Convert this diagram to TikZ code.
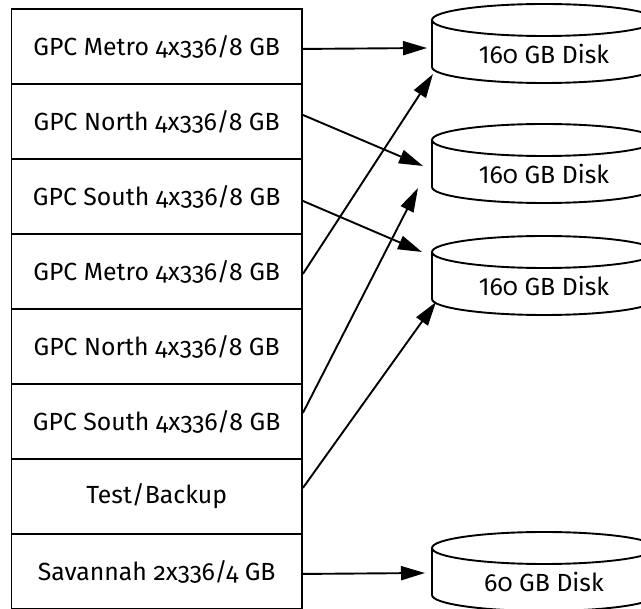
\documentclass[tikz,border=0pt]{standalone}
\usepackage{fontspec}
\setmainfont{Fira Sans}[Numbers=OldStyle]
\usetikzlibrary{arrows.meta,calc}
\newcommand\lnum[1]{{\addfontfeature{Numbers=Lining}#1}}
\newcommand\drawdisk[4]{%
  \coordinate (#1) at (#2,#3);
  \draw (#1) ellipse [x radius=112pt, y radius=16pt];
  \draw ($(#1)+(-112,0)$) -- ++(0,47)
        arc[start angle=180, end angle=360, x radius=112pt, y radius=16pt] -- ++(0,-47);
  \node[disklabel] (#1t) at ($(#1)+(0,44)$) {#4};
}
\begin{document}
\begin{tikzpicture}[x=1pt, y=-1pt, line width=1.9pt,
  rowbox/.style={draw, minimum width=290.5pt, minimum height=75pt, inner sep=0pt,
    font=\fontsize{24.8}{28}\selectfont, anchor=north west},
  disklabel/.style={font=\fontsize{24.8}{28}\selectfont, anchor=base, inner sep=0pt},
  conn/.style={-{Triangle[length=24pt, width=14pt]}}]
\useasboundingbox (0,0) rectangle (641,609);
\fill[white] (0,0) rectangle (641,609);
\clip (0,0) rectangle (641,609);
\node[rowbox] (r1) at (10.5,8)   {GPC Metro 4x336/8 GB};
\node[rowbox] (r2) at (10.5,83)  {GPC North 4x336/8 GB};
\node[rowbox] (r3) at (10.5,158) {GPC South 4x336/8 GB};
\node[rowbox] (r4) at (10.5,233) {GPC Metro 4x336/8 GB};
\node[rowbox] (r5) at (10.5,308) {GPC North 4x336/8 GB};
\node[rowbox] (r6) at (10.5,383) {GPC South 4x336/8 GB};
\node[rowbox] (r7) at (10.5,458) {Test/Backup};
\node[rowbox] (r8) at (10.5,533) {Savannah 2x336/4 GB};
\drawdisk{d1}{544}{20}{\lnum{1}60 GB Disk}
\drawdisk{d2}{544}{140}{\lnum{1}60 GB Disk}
\drawdisk{d3}{544}{252}{\lnum{1}60 GB Disk}
\drawdisk{d4}{544}{548}{60 GB Disk}
\coordinate (a1) at ($(d1)+(-117,28)$);
\coordinate (a2) at ($(d2)+(-121,26)$);
\coordinate (a3) at ($(d3)+(-122,0)$);
\coordinate (a4) at ($(d1)+(-111,54)$);
\coordinate (a6) at ($(d2)+(-126,48)$);
\coordinate (a7) at ($(d3)+(-108,50)$);
\coordinate (a8) at ($(d4)+(-119,25)$);
\draw[conn] ($(r1.east)+(0,2.5)$) -- (a1);
\draw[conn] ($(r2.east)+(0,-6.5)$) -- (a2);
\draw[conn] ($(r3.east)+(0,4.5)$) -- (a3);
\draw[conn] ($(r4.east)+(0,2.5)$) -- (a4);
\draw[conn] ($(r6.east)+(0,-8.5)$) -- (a6);
\draw[conn] ($(r7.east)+(0,-8.5)$) -- (a7);
\draw[conn] ($(r8.east)+(0,2.5)$) -- (a8);
\end{tikzpicture}
\end{document}
